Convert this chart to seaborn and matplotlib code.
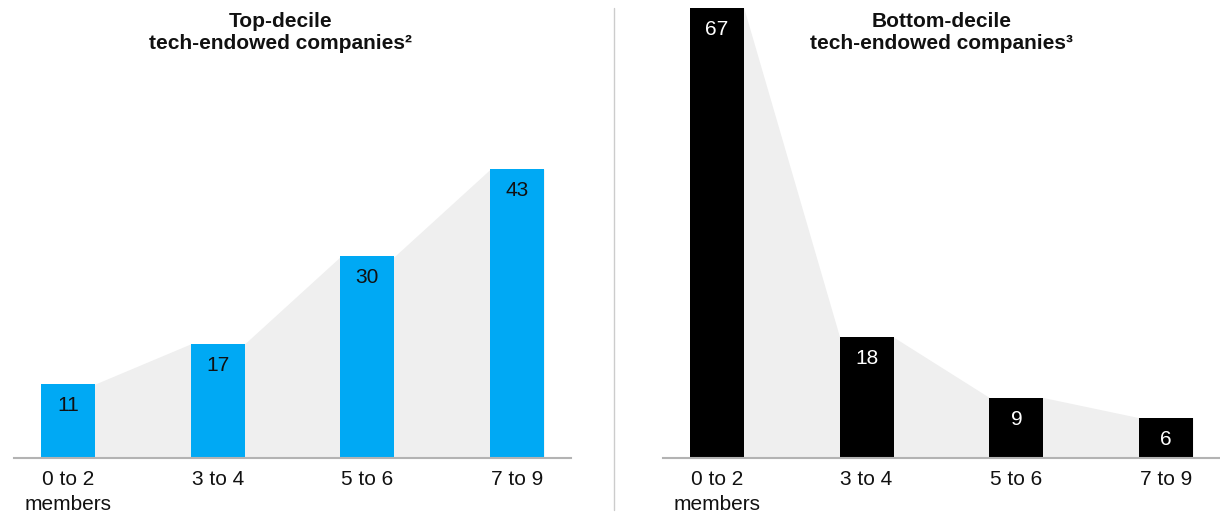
import matplotlib
matplotlib.use('Agg')
import matplotlib.pyplot as plt
import seaborn as sns
import numpy as np

categories = ['0 to 2\nmembers', '3 to 4', '5 to 6', '7 to 9']
top_values = [11, 17, 30, 43]
bottom_values = [67, 18, 9, 6]
titles = ['Top-decile\ntech-endowed companies²', 'Bottom-decile\ntech-endowed companies³']

sns.set_style('white')
plt.rcParams['font.family'] = ['Liberation Sans', 'DejaVu Sans']

fig = plt.figure(figsize=(12.2, 5.15), dpi=100)
ax_left = fig.add_axes([0.0115, 0.1107, 0.4566, 0.8738])
ax_right = fig.add_axes([0.5434, 0.1107, 0.4566, 0.8738])

panels = [
    (ax_left, top_values, '#00a9f4', '#111111', titles[0]),
    (ax_right, bottom_values, '#000000', 'white', titles[1]),
]

for ax, vals, bar_color, txt_color, title in panels:
    sns.barplot(x=categories, y=vals, color=bar_color, width=0.36,
                saturation=1, linewidth=0, edgecolor='none', ax=ax, zorder=2)
    # gray area joining the bar tops
    xs, ys = [], []
    for p in ax.patches:
        xs += [p.get_x(), p.get_x() + p.get_width()]
        ys += [p.get_height(), p.get_height()]
    ax.fill_between(xs, ys, 0, color='#efefef', lw=0, zorder=1)
    for p, v in zip(ax.patches, vals):
        ax.text(p.get_x() + p.get_width() / 2, v - 3.2, str(v), ha='center',
                va='center', fontsize=15, color=txt_color, zorder=3)
    ax.set_xlim(-0.36, 3.36)
    ax.set_ylim(0, 67)
    ax.set_yticks([])
    ax.set_ylabel('')
    sns.despine(ax=ax, left=True)
    ax.spines['bottom'].set_color('#b3b3b3')
    ax.spines['bottom'].set_linewidth(1.5)
    ax.tick_params(axis='x', length=0, labelsize=15, pad=9, colors='#111111')
    for lbl in ax.get_xticklabels():
        lbl.set_linespacing(1.35)
    ax.set_facecolor('none')

fig.text(0.2303, 0.937, titles[0], ha='center', va='center', color='#111111',
         fontsize=15, fontweight='bold', linespacing=1.25)
fig.text(0.772, 0.937, titles[1], ha='center', va='center', color='#111111',
         fontsize=15, fontweight='bold', linespacing=1.25)

fig.add_artist(plt.Line2D([0.5033, 0.5033], [0.01, 0.985], color='#cccccc', lw=1))

plt.savefig('out.png', dpi=100)
